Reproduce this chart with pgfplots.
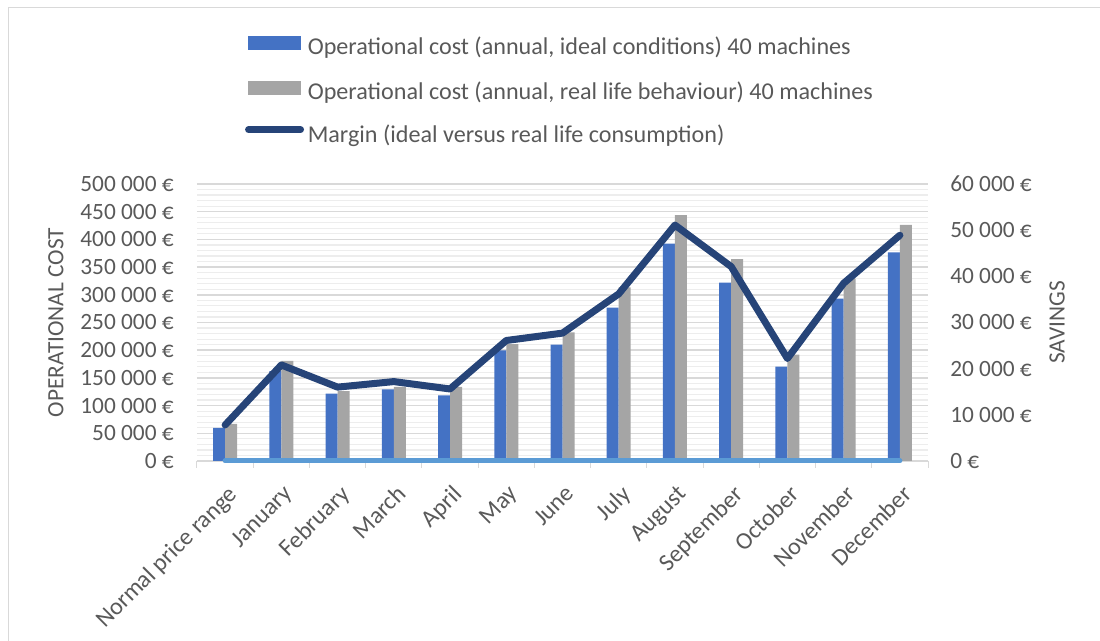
\documentclass[border=0pt]{standalone}
\usepackage{fontspec}
\setmainfont{Carlito}
\usepackage{pgfplots}
\pgfplotsset{compat=1.18}
\definecolor{txt}{HTML}{595959}
\definecolor{cblue}{HTML}{4472C4}
\definecolor{cgrey}{HTML}{A5A5A5}
\definecolor{cdark}{HTML}{264478}
\definecolor{clight}{HTML}{5B9BD5}
\definecolor{gmaj}{HTML}{D9D9D9}
\definecolor{gmin}{HTML}{EDEDED}
\newcommand{\lbl}{\fontsize{17.5}{21}\selectfont}
\newcommand{\lbb}{\fontsize{18.1}{22}\selectfont}
\begin{document}
\begin{tikzpicture}
\path[use as bounding box] (0pt,0pt) rectangle (825pt,480.75pt);
\draw[gmaj, line width=0.75pt] (6pt,0pt) -- (6pt,474.75pt) -- (825pt,474.75pt);
\begin{axis}[
  at={(147.75pt,135pt)}, anchor=south west, scale only axis,
  width=548.25pt, height=207.75pt,
  clip=false,
  xmin=-0.5, xmax=12.5, ymin=0, ymax=500000,
  axis x line*=bottom, axis y line*=left,
  x axis line style={gmaj, line width=1pt, -},
  y axis line style={draw=none},
  major tick length=0pt,
  tick align=outside,
  xtick={0,...,12},
  xticklabels={Normal price range,January,February,March,April,May,June,July,August,September,October,November,December},
  extra x ticks={-0.5,0.5,...,12.5},
  extra x tick labels={},
  extra x tick style={major tick length=5.25pt, tick style={gmaj, line width=0.75pt}, grid=none},
  xticklabel style={rotate=45, anchor=north east, inner sep=0pt, xshift=-11.2pt, yshift=-12.7pt, font=\lbb},
  ytick={0,50000,...,500000},
  minor y tick num=4,
  ymajorgrids, yminorgrids,
  major grid style={gmaj, line width=1.1pt},
  minor grid style={gmin, line width=0.9pt},
  minor tick style={draw=none},
  ytick style={draw=none},
  scaled y ticks=false,
  /pgf/number format/assume math mode=true,
  yticklabel={\pgfmathprintnumber[fixed, precision=0, 1000 sep={\ }]{\tick}~€},
  yticklabel style={anchor=east, inner sep=0pt, xshift=-17.25pt, font=\lbl},
  every tick label/.append style={text=txt},
  ylabel={OPERATIONAL COST},
  ylabel style={at={(axis description cs:-0.1929,0.5)}, anchor=center, font=\lbl, text=txt},
]
\addplot[ybar, bar width=9pt, bar shift=-4.5pt, fill=cblue, draw=none] coordinates {
(0,60000) (1,162000) (2,121500) (3,129400) (4,118600) (5,199800) (6,210000)
(7,276700) (8,392200) (9,321800) (10,170200) (11,293000) (12,376700)};
\addplot[ybar, bar width=9pt, bar shift=4.5pt, fill=cgrey, draw=none] coordinates {
(0,66800) (1,180500) (2,126000) (3,134000) (4,133600) (5,211000) (6,232000)
(7,313500) (8,444000) (9,364600) (10,191900) (11,329000) (12,426000)};
\end{axis}
\begin{axis}[
  at={(147.75pt,135pt)}, anchor=south west, scale only axis,
  width=548.25pt, height=207.75pt,
  clip=false,
  xmin=-0.5, xmax=12.5, ymin=0, ymax=60000,
  axis x line=none, axis y line*=right,
  y axis line style={draw=none},
  major tick length=0pt,
  ytick={0,10000,...,60000},
  ytick style={draw=none},
  scaled y ticks=false,
  /pgf/number format/assume math mode=true,
  yticklabel={\pgfmathprintnumber[fixed, precision=0, 1000 sep={\ }]{\tick}~€},
  yticklabel style={anchor=west, inner sep=0pt, xshift=16.5pt},
  every tick label/.append style={font=\lbl, text=txt},
  ylabel={SAVINGS},
  ylabel style={at={(axis description cs:1.1765,0.5)}, anchor=center, font=\lbl, text=txt},
  legend cell align=left,
  legend style={at={(axis description cs:0.065,1.5365)}, anchor=north west, draw=none, fill=none,
    inner sep=0pt, row sep=16pt, font=\lbb, text=txt,
    nodes={text height=12pt, text depth=4pt, inner sep=0pt},
    /tikz/every odd column/.append style={column sep=2.6pt}},
]
\addlegendimage{legend image code/.code={\path (-2.625pt,0pt) (41.625pt,0pt); \fill[cblue] (0pt,0pt) rectangle (39pt,9.75pt);}}
\addlegendentry{Operational cost (annual, ideal conditions) 40 machines}
\addlegendimage{legend image code/.code={\path (-2.625pt,0pt) (41.625pt,0pt); \fill[cgrey] (0pt,0pt) rectangle (39pt,9.75pt);}}
\addlegendentry{Operational cost (annual, real life behaviour) 40 machines}
\addlegendimage{legend image code/.code={\path (-2.625pt,0pt) (41.625pt,0pt); \draw[cdark, line width=5.25pt, line cap=round] (0pt,5.5pt) -- (39pt,5.5pt);}}
\addlegendentry{Margin (ideal versus real life consumption)}
\addplot[clight, line width=3.75pt, line cap=round, forget plot] coordinates {
(0,0) (1,0) (2,0) (3,0) (4,0) (5,0) (6,0) (7,0) (8,0) (9,0) (10,0) (11,0) (12,0)};
\addplot[cdark, line width=5.25pt, line cap=round, line join=round, forget plot] coordinates {
(0,7800) (1,20800) (2,16000) (3,17200) (4,15600) (5,26100) (6,27700)
(7,36200) (8,51100) (9,42100) (10,22200) (11,38500) (12,48900)};
\end{axis}
\end{tikzpicture}
\end{document}
